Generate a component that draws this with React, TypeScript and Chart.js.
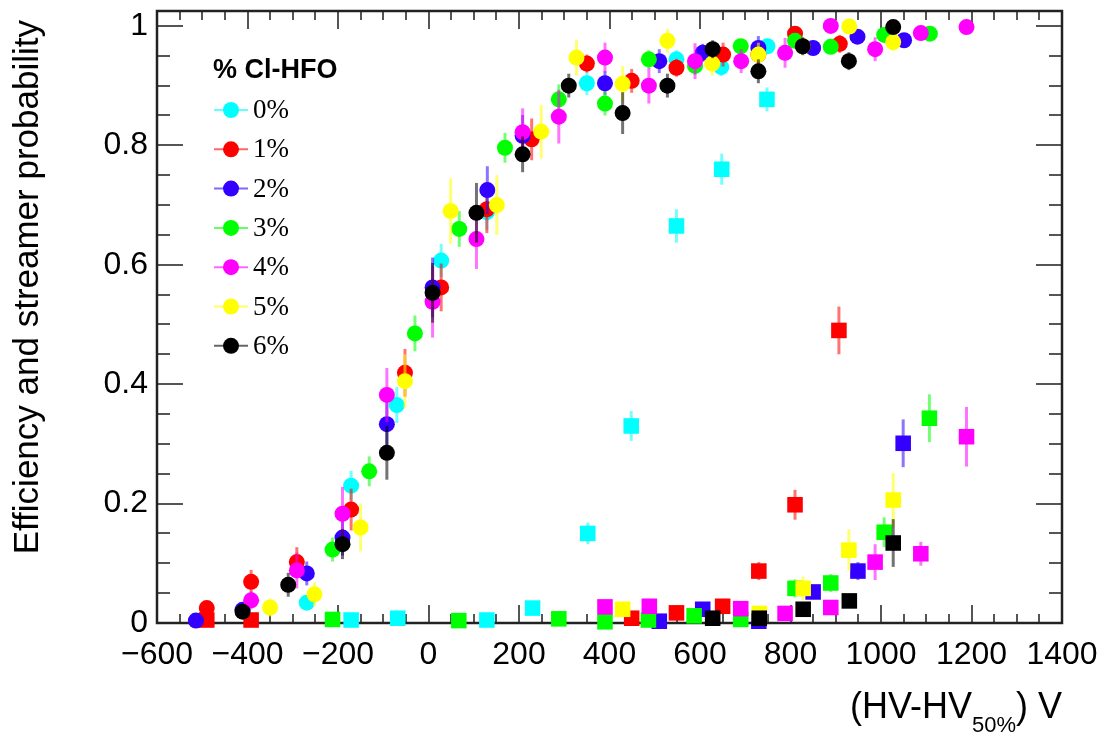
import { useEffect, useRef } from 'react';
import { Chart, registerables } from 'chart.js';

Chart.register(...registerables);

// ---- series meta ----
const seriesLabels = ['0%', '1%', '2%', '3%', '4%', '5%', '6%'];
const seriesColors = ['#00FFFF', '#FF0000', '#3300FF', '#00FF00', '#FF00FF', '#FFFF00', '#000000'];

// ---- efficiency (circles) ----
const eff0X = [-269, -171, -70, 28, 129, 350, 548, 647, 749];
const eff0Y = [0.034, 0.23, 0.365, 0.607, 0.688, 0.904, 0.944, 0.931, 0.966];
const eff0E = [0.012, 0.025, 0.03, 0.028, 0.03, 0.02, 0.015, 0.015, 0.012];

const eff1X = [-490, -392, -291, -171, -52, 28, 129, 228, 350, 449, 548, 651, 729, 810, 909];
const eff1Y = [0.025, 0.069, 0.102, 0.19, 0.419, 0.562, 0.693, 0.81, 0.937, 0.908, 0.93, 0.952, 0.952, 0.987, 0.97];
const eff1E = [0.012, 0.02, 0.025, 0.035, 0.04, 0.04, 0.04, 0.035, 0.015, 0.02, 0.015, 0.02, 0.02, 0.01, 0.015];

const eff2X = [-514, -411, -269, -190, -92, 9, 130, 208, 390, 510, 606, 729, 850, 948, 1051];
const eff2Y = [0.004, 0.022, 0.083, 0.143, 0.333, 0.562, 0.725, 0.816, 0.904, 0.941, 0.955, 0.963, 0.963, 0.982, 0.976];
const eff2E = [0.004, 0.01, 0.02, 0.03, 0.04, 0.05, 0.04, 0.035, 0.02, 0.02, 0.015, 0.02, 0.012, 0.01, 0.01];

const eff3X = [-212, -131, -30, 68, 169, 288, 390, 487, 589, 690, 810, 889, 1007, 1108];
const eff3Y = [0.123, 0.254, 0.485, 0.66, 0.796, 0.877, 0.87, 0.944, 0.933, 0.966, 0.975, 0.965, 0.985, 0.987];
const eff3E = [0.02, 0.025, 0.03, 0.03, 0.025, 0.025, 0.02, 0.015, 0.015, 0.012, 0.012, 0.012, 0.01, 0.008];

const eff4X = [-392, -291, -190, -92, 9, 106, 208, 288, 390, 487, 589, 691, 788, 889, 987, 1088, 1189];
const eff4Y = [0.038, 0.088, 0.183, 0.382, 0.538, 0.643, 0.822, 0.848, 0.947, 0.9, 0.941, 0.941, 0.955, 1.0, 0.961, 0.988, 0.998];
const eff4E = [0.015, 0.03, 0.045, 0.045, 0.06, 0.05, 0.04, 0.045, 0.025, 0.03, 0.03, 0.02, 0.025, 0.008, 0.02, 0.01, 0.005];

const eff5X = [-350, -252, -150, -52, 49, 151, 249, 327, 429, 528, 627, 729, 827, 930, 1027];
const eff5Y = [0.026, 0.048, 0.16, 0.405, 0.69, 0.7, 0.823, 0.947, 0.903, 0.975, 0.937, 0.952, 0.966, 0.999, 0.973];
const eff5E = [0.015, 0.02, 0.04, 0.045, 0.055, 0.05, 0.045, 0.03, 0.03, 0.02, 0.02, 0.02, 0.015, 0.008, 0.015];

const eff6X = [-411, -310, -190, -92, 9, 106, 208, 310, 429, 528, 628, 729, 827, 929, 1027];
const eff6Y = [0.019, 0.064, 0.132, 0.285, 0.553, 0.687, 0.785, 0.9, 0.854, 0.9, 0.961, 0.924, 0.966, 0.941, 0.998];
const eff6E = [0.01, 0.02, 0.025, 0.045, 0.05, 0.05, 0.03, 0.02, 0.035, 0.02, 0.015, 0.02, 0.015, 0.015, 0.005];

// ---- streamer probability (squares) ----
const str0X = [-171, -68, 129, 230, 352, 448, 548, 648, 748];
const str0Y = [0.005, 0.008, 0.005, 0.025, 0.15, 0.33, 0.665, 0.76, 0.877];
const str0E = [0.004, 0.005, 0.004, 0.008, 0.018, 0.025, 0.028, 0.026, 0.02];

const str1X = [-490, -392, 449, 548, 650, 730, 810, 907];
const str1Y = [0.005, 0.005, 0.008, 0.017, 0.028, 0.087, 0.198, 0.49];
const str1E = [0.003, 0.003, 0.005, 0.006, 0.008, 0.015, 0.025, 0.04];

const str2X = [510, 606, 730, 850, 949, 1049];
const str2Y = [0.003, 0.023, 0.003, 0.052, 0.087, 0.301];
const str2E = [0.003, 0.008, 0.003, 0.012, 0.015, 0.04];

const str3X = [-212, 67, 288, 390, 486, 587, 690, 810, 889, 1007, 1107];
const str3Y = [0.006, 0.004, 0.007, 0.002, 0.005, 0.012, 0.006, 0.058, 0.067, 0.152, 0.343];
const str3E = [0.004, 0.003, 0.004, 0.003, 0.004, 0.005, 0.005, 0.015, 0.015, 0.025, 0.04];

const str4X = [390, 488, 690, 788, 889, 987, 1088, 1189];
const str4Y = [0.027, 0.028, 0.024, 0.016, 0.026, 0.102, 0.116, 0.312];
const str4E = [0.01, 0.01, 0.008, 0.008, 0.012, 0.03, 0.02, 0.05];

const str5X = [429, 731, 828, 929, 1027];
const str5Y = [0.023, 0.016, 0.058, 0.122, 0.206];
const str5E = [0.008, 0.008, 0.02, 0.035, 0.045];

const str6X = [628, 731, 828, 930, 1027];
const str6Y = [0.008, 0.008, 0.023, 0.037, 0.134];
const str6E = [0.004, 0.005, 0.008, 0.012, 0.04];

// ---- axes ----
const xTickValues = [-600, -400, -200, 0, 200, 400, 600, 800, 1000, 1200, 1400];
const xTickLabels = ['\u2212600', '\u2212400', '\u2212200', '0', '200', '400', '600', '800', '1000', '1200', '1400'];
const yTickValues = [0, 0.2, 0.4, 0.6, 0.8, 1];
const yTickLabels = ['0', '0.2', '0.4', '0.6', '0.8', '1'];
const xMin = -600;
const xMax = 1400;
const yMin = 0;
const yMax = 1.025;

const yTitle = 'Efficiency and streamer probability';
const xTitleMain = '(HV-HV';
const xTitleSub = '50%';
const xTitleEnd = ') V';
const legendTitle = '% Cl-HFO';

const effSets = [
  [eff0X, eff0Y, eff0E], [eff1X, eff1Y, eff1E], [eff2X, eff2Y, eff2E], [eff3X, eff3Y, eff3E],
  [eff4X, eff4Y, eff4E], [eff5X, eff5Y, eff5E], [eff6X, eff6Y, eff6E],
];
const strSets = [
  [str0X, str0Y, str0E], [str1X, str1Y, str1E], [str2X, str2Y, str2E], [str3X, str3Y, str3E],
  [str4X, str4Y, str4E], [str5X, str5Y, str5E], [str6X, str6Y, str6E],
];

const SANS = '"Liberation Sans", Arial, Helvetica, sans-serif';
const SERIF = '"Liberation Serif", "Times New Roman", serif';

function hexToRgba(hex: string, a: number) {
  const r = parseInt(hex.slice(1, 3), 16);
  const g = parseInt(hex.slice(3, 5), 16);
  const b = parseInt(hex.slice(5, 7), 16);
  return `rgba(${r},${g},${b},${a})`;
}

const errorBarPlugin = {
  id: 'errorBars',
  beforeDatasetDraw(chart: any, args: any) {
    const ds = chart.data.datasets[args.index];
    const errs: number[] = ds.errors;
    if (!errs) return;
    const ys = chart.scales.y;
    const ctx = chart.ctx;
    ctx.save();
    ctx.strokeStyle = hexToRgba(ds.baseColor, 0.55);
    ctx.lineWidth = 3;
    args.meta.data.forEach((pt: any, i: number) => {
      const v = ds.data[i].y;
      const e = errs[i];
      const lo = Math.max(0, v - e);
      const hi = Math.min(1, v + e);
      ctx.beginPath();
      ctx.moveTo(pt.x, ys.getPixelForValue(lo));
      ctx.lineTo(pt.x, ys.getPixelForValue(hi));
      ctx.stroke();
    });
    ctx.restore();
  },
};

const framePlugin = {
  id: 'rootFrame',
  beforeDatasetsDraw(chart: any) {
    const { ctx, chartArea } = chart;
    const { left, right, top, bottom } = chartArea;
    const xs = chart.scales.x;
    const ys = chart.scales.y;
    ctx.save();
    ctx.strokeStyle = '#555';
    ctx.lineWidth = 2;
    ctx.beginPath();
    for (let k = 0; k <= 40; k++) {
      const v = xMin + k * 50;
      const px = Math.round(xs.getPixelForValue(v));
      const len = k % 4 === 0 ? 18 : 9;
      ctx.moveTo(px, bottom);
      ctx.lineTo(px, bottom - len);
      ctx.moveTo(px, top);
      ctx.lineTo(px, top + len);
    }
    for (let k = 0; k <= 20; k++) {
      const v = k * 0.05;
      const py = Math.round(ys.getPixelForValue(v));
      const len = k % 4 === 0 ? 26 : 13;
      ctx.moveTo(left, py);
      ctx.lineTo(left + len, py);
      ctx.moveTo(right, py);
      ctx.lineTo(right - len, py);
    }
    ctx.stroke();
    ctx.strokeStyle = '#222';
    ctx.lineWidth = 2.5;
    ctx.strokeRect(left, top, right - left, bottom - top);
    ctx.restore();
  },
};

const textPlugin = {
  id: 'rootText',
  afterDraw(chart: any) {
    const { ctx, chartArea } = chart;
    ctx.save();
    ctx.fillStyle = '#000';
    // y title
    ctx.font = `35px ${SANS}`;
    ctx.translate(28, 20);
    ctx.rotate(-Math.PI / 2);
    ctx.textAlign = 'right';
    ctx.textBaseline = 'middle';
    ctx.fillText(yTitle, 0, 0);
    ctx.setTransform(1, 0, 0, 1, 0, 0);

    // x title with subscript
    const mainFont = `36px ${SANS}`;
    const subFont = `22px ${SANS}`;
    ctx.textBaseline = 'alphabetic';
    ctx.textAlign = 'left';
    ctx.font = mainFont;
    const w1 = ctx.measureText(xTitleMain).width;
    const w3 = ctx.measureText(xTitleEnd).width;
    ctx.font = subFont;
    const w2 = ctx.measureText(xTitleSub).width;
    const xEnd = chartArea.right;
    let x0 = xEnd - (w1 + w2 + w3);
    const base = 718;
    ctx.font = mainFont;
    ctx.fillText(xTitleMain, x0, base);
    x0 += w1;
    ctx.font = subFont;
    ctx.fillText(xTitleSub, x0, base + 14);
    x0 += w2;
    ctx.font = mainFont;
    ctx.fillText(xTitleEnd, x0, base);

    // legend
    ctx.font = `bold 27px ${SANS}`;
    ctx.textBaseline = 'middle';
    ctx.fillText(legendTitle, 213, 71);
    const y0 = 110;
    const dy = 39.3;
    seriesLabels.forEach((lab, i) => {
      const y = y0 + i * dy;
      const c = seriesColors[i];
      ctx.strokeStyle = hexToRgba(c, 0.6);
      ctx.lineWidth = 2;
      ctx.beginPath();
      ctx.moveTo(214, y);
      ctx.lineTo(248, y);
      ctx.stroke();
      ctx.fillStyle = c;
      ctx.beginPath();
      ctx.arc(231, y, 8, 0, Math.PI * 2);
      ctx.fill();
      ctx.fillStyle = '#000';
      ctx.font = `27px ${SERIF}`;
      ctx.fillText(lab, 253, y + 1);
    });
    ctx.restore();
  },
};

export default function App() {
  const ref = useRef<HTMLCanvasElement>(null);
  useEffect(() => {
    const canvas = ref.current!;
    const datasets: any[] = [];
    seriesLabels.forEach((lab, i) => {
      const [ex, ey, ee] = effSets[i];
      const [sx, sy, se] = strSets[i];
      datasets.push({
        label: `eff ${lab}`,
        data: ex.map((x, k) => ({ x, y: ey[k] })),
        errors: ee,
        baseColor: seriesColors[i],
        backgroundColor: seriesColors[i],
        borderWidth: 0,
        pointStyle: 'circle',
        pointRadius: 8,
        pointHoverRadius: 8,
        showLine: false,
        clip: false,
        order: 20 - 2 * i,
      });
      datasets.push({
        label: `str ${lab}`,
        data: sx.map((x, k) => ({ x, y: sy[k] })),
        errors: se,
        baseColor: seriesColors[i],
        backgroundColor: seriesColors[i],
        borderWidth: 0,
        pointStyle: 'rect',
        pointRadius: 11,
        pointHoverRadius: 11,
        showLine: false,
        clip: false,
        order: 20 - 2 * i - 1,
      });
    });

    const chart = new Chart(canvas, {
      type: 'scatter',
      data: { datasets },
      options: {
        animation: false,
        responsive: false,
        events: [],
        layout: { padding: { left: 0, top: 8, right: 50, bottom: 0 } },
        plugins: { legend: { display: false }, tooltip: { enabled: false }, title: { display: false } },
        scales: {
          x: {
            type: 'linear',
            min: xMin,
            max: xMax,
            grid: { display: false, drawTicks: false },
            border: { display: false },
            afterBuildTicks: (s: any) => { s.ticks = xTickValues.map((v) => ({ value: v })); },
            afterFit: (s: any) => { s.height = 115; s.paddingLeft = 0; s.paddingRight = 0; s.paddingTop = 0; s.paddingBottom = 0; },
            ticks: {
              autoSkip: false,
              maxRotation: 0,
              minRotation: 0,
              padding: 13,
              color: '#000',
              font: { family: SANS, size: 32 },
              callback: (v: any) => { const i = xTickValues.indexOf(Number(v)); return i >= 0 ? xTickLabels[i] : ''; },
            },
          },
          y: {
            type: 'linear',
            min: yMin,
            max: yMax,
            grid: { display: false, drawTicks: false },
            border: { display: false },
            afterBuildTicks: (s: any) => { s.ticks = yTickValues.map((v) => ({ value: v })); },
            afterFit: (s: any) => { s.width = 157; s.paddingLeft = 0; s.paddingRight = 0; s.paddingTop = 0; s.paddingBottom = 0; },
            ticks: {
              autoSkip: false,
              padding: 9,
              color: '#000',
              font: { family: SANS, size: 32 },
              callback: (v: any) => { const i = yTickValues.findIndex((t) => Math.abs(t - Number(v)) < 1e-9); return i >= 0 ? yTickLabels[i] : ''; },
            },
          },
        },
      },
      plugins: [framePlugin, errorBarPlugin, textPlugin],
    } as any);
    return () => chart.destroy();
  }, []);
  return (
    <div style={{ position: 'absolute', left: 0, top: 0, width: 1112, height: 738, background: '#fff' }}>
      <canvas ref={ref} width={1112} height={738} style={{ display: 'block' }} />
    </div>
  );
}
